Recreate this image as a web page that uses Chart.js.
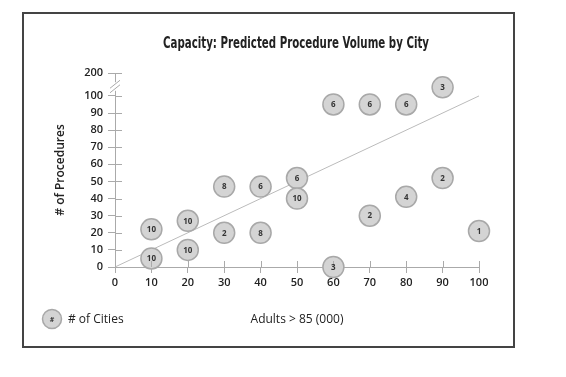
<!DOCTYPE html>
<html>
<head>
<meta charset="utf-8">
<script src="https://cdn.jsdelivr.net/npm/chart.js@4"></script>
<style>
  body { margin: 0; background: #fff; }
  #wrap { width: 566px; height: 377px; }
</style>
</head>
<body>
<div id="wrap"><canvas id="capacityChart" width="566" height="377"></canvas></div>
<script>
// Adults > 85 (000), # of procedures, # of cities
const adults = [10, 10, 20, 20, 30, 30, 40, 40, 50, 50, 60, 70, 80, 90, 90, 80, 70, 100, 60];
const procedures = [22, 5, 27, 10, 47, 20, 47, 20, 52, 40, 95, 95, 95, 105, 52, 41, 30, 21, 0];
const cities = [10, 10, 10, 10, 8, 2, 6, 8, 6, 10, 6, 6, 6, 3, 2, 4, 2, 1, 3];

const trendX = [0, 100];
const trendY = [0, 100];

const xTicks = [0, 10, 20, 30, 40, 50, 60, 70, 80, 90, 100];
const yTicks = [0, 10, 20, 30, 40, 50, 60, 70, 80, 90, 100, 113.4];
const yTickLabels = ['0', '10', '20', '30', '40', '50', '60', '70', '80', '90', '100', '200'];

const axisColor = '#aaaaaa';
const tickFont = { family: "'Open Sans', sans-serif", size: 11, weight: '600' };

const extras = {
  id: 'extras',
  afterDatasetsDraw(chart) {
    const c = chart.ctx;
    const x = chart.scales.x, y = chart.scales.y;
    const ax = x.getPixelForValue(0), ay = y.getPixelForValue(0);

    // inner halves of the ticks
    c.save();
    c.strokeStyle = axisColor;
    c.lineWidth = 1;
    c.beginPath();
    yTicks.forEach(v => {
      const py = Math.round(y.getPixelForValue(v)) + 0.5;
      c.moveTo(ax, py); c.lineTo(ax + 7, py);
    });
    xTicks.forEach(v => {
      const px = Math.round(x.getPixelForValue(v)) + 0.5;
      c.moveTo(px, ay); c.lineTo(px, ay - 6);
    });
    c.stroke();

    // axis break
    const b1 = y.getPixelForValue(103), b2 = y.getPixelForValue(108);
    c.fillStyle = '#fff';
    c.fillRect(ax - 3, b2, 6, b1 - b2);
    c.beginPath();
    c.moveTo(ax - 5, b1 + 2); c.lineTo(ax + 5, b1 - 6);
    c.moveTo(ax - 5, b2 + 6); c.lineTo(ax + 5, b2 - 2);
    c.stroke();

    // counts inside the circles
    const meta = chart.getDatasetMeta(0);
    c.fillStyle = '#333';
    c.font = "bold 8px 'Open Sans', sans-serif";
    c.textAlign = 'center';
    c.textBaseline = 'middle';
    meta.data.forEach((pt, i) => {
      c.fillText(String(cities[i]), pt.x, pt.y + 0.5);
    });
    c.restore();
  },
  afterDraw(chart) {
    const c = chart.ctx;
    c.save();
    // frame
    c.strokeStyle = '#444';
    c.lineWidth = 2;
    c.strokeRect(23, 13, 491, 334);

    // title, squeezed to a condensed width
    const title = 'Capacity: Predicted Procedure Volume by City';
    c.fillStyle = '#222';
    c.textAlign = 'center';
    c.textBaseline = 'middle';
    c.font = "bold 16px 'DejaVu Sans', sans-serif";
    const w = c.measureText(title).width;
    c.save();
    c.translate(296, 44);
    c.scale(266 / w, 1);
    c.fillText(title, 0, 0);
    c.restore();

    // legend
    c.fillStyle = '#d4d4d4';
    c.strokeStyle = '#a8a8a8';
    c.lineWidth = 1.5;
    c.beginPath();
    c.arc(52, 319, 9.5, 0, Math.PI * 2);
    c.fill(); c.stroke();
    c.fillStyle = '#333';
    c.font = "bold 7px 'Open Sans', sans-serif";
    c.fillText('#', 52, 319.5);
    c.fillStyle = '#222';
    c.textAlign = 'left';
    c.font = "12px 'Open Sans', sans-serif";
    c.fillText('# of Cities', 68, 320);
    c.restore();
  }
};

new Chart(document.getElementById('capacityChart'), {
  data: {
    datasets: [
      {
        type: 'scatter',
        data: adults.map((a, i) => ({ x: a, y: procedures[i] })),
        pointRadius: 10.5,
        pointBackgroundColor: '#d4d4d4',
        pointBorderColor: '#a8a8a8',
        pointBorderWidth: 1.5,
        clip: false,
        order: 1
      },
      {
        type: 'line',
        data: trendX.map((a, i) => ({ x: a, y: trendY[i] })),
        borderColor: '#bbbbbb',
        borderWidth: 1,
        pointRadius: 0,
        clip: false,
        order: 2
      }
    ]
  },
  options: {
    responsive: false,
    animation: false,
    layout: { padding: { left: 0, right: 87, top: 73, bottom: 0 } },
    plugins: { legend: { display: false }, tooltip: { enabled: false } },
    scales: {
      x: {
        type: 'linear',
        min: 0,
        max: 100,
        afterBuildTicks: s => { s.ticks = xTicks.map(v => ({ value: v })); },
        afterFit: s => { s.height = 110; },
        grid: { drawOnChartArea: false, drawTicks: true, tickLength: 6, color: axisColor },
        border: { color: axisColor },
        ticks: { color: '#222', font: tickFont, padding: 3, maxRotation: 0 },
        title: {
          display: true,
          text: 'Adults > 85 (000)',
          color: '#222',
          font: { family: "'Open Sans', sans-serif", size: 12 },
          padding: { top: 0, bottom: 50 }
        }
      },
      y: {
        type: 'linear',
        min: 0,
        max: 113.4,
        afterBuildTicks: s => { s.ticks = yTicks.map(v => ({ value: v })); },
        afterFit: s => { s.width = 115; },
        grid: { drawOnChartArea: false, drawTicks: true, tickLength: 7, color: axisColor },
        border: { color: axisColor },
        ticks: {
          color: '#222',
          font: tickFont,
          padding: 5,
          callback: (v, i) => yTickLabels[i]
        },
        title: {
          display: true,
          text: '# of Procedures',
          color: '#222',
          font: { family: "'Open Sans', sans-serif", size: 12, weight: '600' },
          padding: { top: 53, bottom: 0 }
        }
      }
    }
  },
  plugins: [extras]
});
</script>
</body>
</html>
